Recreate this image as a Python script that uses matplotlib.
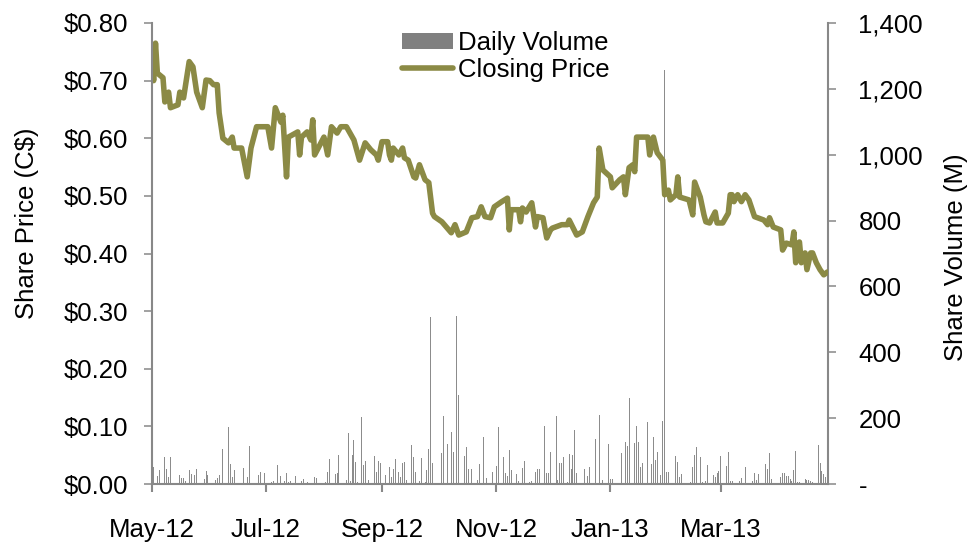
import numpy as np
import pandas as pd
import matplotlib
matplotlib.use("Agg")
import matplotlib.pyplot as plt
import matplotlib.dates as mdates
from matplotlib.lines import Line2D
from matplotlib.patches import Patch
from matplotlib.ticker import FuncFormatter, MultipleLocator

plt.rcParams['font.family'] = ['Liberation Sans', 'DejaVu Sans']

start = pd.Timestamp('2012-05-01')
end_day = 361

# closing price, days after 2012-05-01
price_day = [0, 1, 2, 3, 6, 7, 9, 10, 14, 15, 17, 20, 22, 24, 27, 29, 31, 33, 35, 36,
             38, 41, 43, 44, 48, 51, 53, 56, 62, 64, 66, 69, 70, 72, 73, 78, 79, 80, 83, 85,
             86, 87, 92, 94, 96, 99, 101, 104, 108, 111, 114, 117, 120, 121, 123, 126, 127, 128, 129, 132,
             134, 135, 137, 140, 141, 143, 146, 148, 150, 151, 155, 160, 162, 164, 168, 171, 174, 176, 178, 181,
             183, 187, 190, 191, 192, 196, 197, 198, 200, 203, 205, 206, 209, 211, 213, 214, 219, 222, 223, 227,
             230, 233, 236, 238, 239, 241, 245, 246, 250, 252, 253, 255, 257, 258, 259, 265, 266, 268, 270, 273,
             274, 276, 277, 280, 281, 282, 287, 289, 290, 293, 295, 296, 298, 301, 302, 305, 308, 309, 310, 311,
             313, 315, 317, 319, 322, 327, 329, 330, 332, 336, 337, 339, 342, 343, 344, 346, 347, 349, 350, 352,
             353, 355, 357, 359, 361]
price = [0.74, 0.70, 0.765, 0.713, 0.705, 0.663, 0.68, 0.653, 0.658, 0.68, 0.67, 0.733, 0.724, 0.68, 0.653, 0.701, 0.70, 0.693, 0.693, 0.644,
         0.60, 0.592, 0.602, 0.583, 0.583, 0.533, 0.583, 0.62, 0.62, 0.583, 0.653, 0.628, 0.64, 0.533, 0.602, 0.611, 0.571, 0.602, 0.611, 0.597,
         0.632, 0.571, 0.602, 0.571, 0.62, 0.609, 0.62, 0.62, 0.597, 0.562, 0.592, 0.58, 0.571, 0.562, 0.594, 0.594, 0.571, 0.562, 0.583, 0.571,
         0.583, 0.566, 0.562, 0.533, 0.531, 0.554, 0.528, 0.523, 0.47, 0.464, 0.455, 0.436, 0.45, 0.432, 0.4375, 0.462, 0.464, 0.481, 0.464, 0.462,
         0.481, 0.49, 0.496, 0.441, 0.476, 0.476, 0.455, 0.479, 0.472, 0.488, 0.446, 0.464, 0.462, 0.427, 0.441, 0.444, 0.45, 0.45, 0.458, 0.432,
         0.4375, 0.464, 0.488, 0.498, 0.583, 0.545, 0.533, 0.514, 0.528, 0.533, 0.502, 0.549, 0.554, 0.542, 0.602, 0.602, 0.571, 0.602, 0.575, 0.562,
         0.502, 0.51, 0.493, 0.502, 0.533, 0.498, 0.493, 0.467, 0.524, 0.498, 0.467, 0.455, 0.453, 0.472, 0.453, 0.453, 0.47, 0.502, 0.502, 0.49,
         0.502, 0.49, 0.502, 0.493, 0.464, 0.458, 0.45, 0.462, 0.446, 0.441, 0.406, 0.418, 0.415, 0.4375, 0.384, 0.42, 0.384, 0.401, 0.372, 0.401,
         0.401, 0.384, 0.372, 0.363, 0.368]

# daily volume (millions), days after 2012-05-01
vol_day = [1, 3, 4, 6, 7, 8, 9, 10, 15, 16, 17, 18, 20, 21, 23, 24, 28, 29, 30, 34,
           35, 36, 38, 41, 42, 43, 44, 45, 49, 51, 52, 57, 58, 60, 64, 65, 67, 69, 71, 72,
           73, 74, 76, 77, 80, 81, 83, 87, 88, 93, 94, 95, 98, 99, 100, 104, 105, 106, 107, 108,
           109, 110, 112, 113, 114, 115, 116, 119, 120, 121, 122, 123, 125, 127, 128, 129, 130, 132, 133, 134,
           135, 136, 139, 140, 141, 143, 144, 146, 147, 148, 149, 150, 154, 155, 156, 158, 160, 161, 162, 163,
           164, 167, 168, 169, 170, 171, 174, 175, 177, 179, 182, 184, 185, 188, 189, 190, 191, 192, 195, 196,
           198, 199, 202, 203, 205, 206, 207, 209, 210, 211, 212, 213, 216, 217, 218, 219, 220, 222, 223, 224,
           225, 226, 227, 231, 233, 234, 237, 239, 240, 241, 244, 245, 246, 248, 251, 253, 254, 255, 256, 258,
           259, 260, 261, 262, 265, 267, 268, 269, 270, 272, 273, 274, 275, 276, 279, 280, 281, 282, 283, 288,
           289, 290, 291, 293, 294, 295, 296, 297, 300, 301, 302, 303, 304, 307, 308, 309, 310, 314, 315, 317,
           321, 322, 323, 324, 328, 329, 330, 331, 332, 336, 337, 338, 339, 340, 341, 342, 343, 344, 345, 346,
           349, 350, 351, 352, 353, 356, 357, 358, 359, 360]
volume = [51, 25, 42, 20, 81, 46, 22, 81, 28, 18, 18, 8, 44, 30, 28, 46, 15, 40, 28, 13,
          18, 28, 106, 174, 61, 22, 44, 5, 49, 22, 114, 28, 38, 32, 5, 10, 58, 25, 10, 32,
          5, 10, 10, 23, 10, 15, 7, 22, 18, 5, 38, 76, 30, 32, 89, 12, 154, 10, 89, 134,
          66, 5, 202, 59, 69, 10, 12, 86, 38, 69, 63, 20, 28, 53, 22, 46, 76, 35, 22, 65,
          68, 13, 119, 83, 35, 10, 78, 7, 42, 106, 508, 64, 94, 93, 207, 121, 159, 96, 126, 511,
          270, 84, 111, 46, 5, 46, 13, 61, 144, 18, 35, 56, 174, 81, 32, 25, 104, 44, 30, 10,
          48, 69, 7, 10, 35, 46, 46, 18, 176, 33, 33, 96, 207, 12, 63, 63, 83, 5, 91, 46,
          88, 164, 33, 46, 25, 53, 137, 210, 30, 12, 123, 15, 15, 30, 94, 128, 116, 261, 15, 125,
          176, 128, 51, 64, 187, 61, 144, 74, 96, 28, 190, 1256, 35, 38, 58, 84, 68, 22, 30, 7,
          51, 89, 113, 81, 5, 76, 10, 59, 28, 20, 32, 40, 86, 56, 96, 10, 8, 8, 18, 53,
          10, 33, 12, 30, 61, 46, 93, 15, 3, 20, 32, 32, 25, 23, 15, 10, 42, 101, 5, 5,
          15, 12, 12, 10, 5, 119, 64, 40, 30, 20]

price_dates = start + pd.to_timedelta(price_day, unit='D')
vol_dates = start + pd.to_timedelta(vol_day, unit='D')

olive = '#8B8A45'
spine_gray = '#888888'
fs = 18.5

fig = plt.figure(figsize=(9.69, 5.45), dpi=100)
ax = fig.add_axes([0.1566, 0.1119, 0.6974, 0.8459])
ax2 = ax.twinx()

ax2.bar(vol_dates, volume, width=0.5, color='#8C8C8C', linewidth=0)
ax.plot(price_dates, price, color=olive, linewidth=4.0,
        solid_joinstyle='round', solid_capstyle='round')

# price line above the bars
ax.set_zorder(ax2.get_zorder() + 1)
ax.patch.set_visible(False)

ax.set_xlim(start, start + pd.Timedelta(days=end_day))
ax.set_ylim(0, 0.8)
ax2.set_ylim(0, 1400)

ax.yaxis.set_major_locator(MultipleLocator(0.1))
ax.yaxis.set_major_formatter(FuncFormatter(lambda v, p: '$%.2f' % v))
ax2.yaxis.set_major_locator(MultipleLocator(200))
ax2.yaxis.set_major_formatter(FuncFormatter(lambda v, p: '-' if abs(v) < 1e-9 else '{:,.0f}'.format(v)))

ax.xaxis.set_major_locator(mdates.MonthLocator(bymonth=[1, 3, 5, 7, 9, 11]))
ax.xaxis.set_major_formatter(mdates.DateFormatter('%b-%y'))

for a in (ax, ax2):
    a.spines['top'].set_visible(False)
    for s in ('left', 'right', 'bottom'):
        a.spines[s].set_color(spine_gray)
        a.spines[s].set_linewidth(1.5)
ax.spines['right'].set_visible(False)
ax2.spines['left'].set_visible(False)
ax2.spines['bottom'].set_visible(False)

ax.tick_params(axis='y', direction='out', length=5.8, width=1.1, color=spine_gray,
               labelsize=fs, pad=11.5)
ax.tick_params(axis='x', direction='out', length=5.8, width=1.5, color=spine_gray,
               labelsize=fs, pad=19)
ax2.tick_params(axis='y', direction='out', length=5.8, width=1.1, color=spine_gray,
                labelsize=fs, pad=16.5)

ax.set_ylabel('Share Price (C$)', fontsize=fs)
ax.yaxis.label.set_va('center')
ax.yaxis.set_label_coords(-0.185, 0.565)
ax2.set_ylabel('Share Volume (M)', fontsize=fs)
ax2.yaxis.label.set_va('center')
ax2.yaxis.set_label_coords(1.19, 0.492)

handles = [Patch(facecolor='#808080', edgecolor='none'),
           Line2D([0], [0], color=olive, linewidth=4.0, solid_capstyle='round')]
ax.legend(handles, ['Daily Volume', 'Closing Price'], loc='upper left',
          bbox_to_anchor=(402 / 969, 1 - 31 / 545), bbox_transform=fig.transFigure,
          frameon=False, fontsize=fs, borderpad=0, borderaxespad=0,
          handlelength=1.98, handletextpad=0.2, labelspacing=0.12, handleheight=0.6)

fig.savefig('out.png', dpi=100)
